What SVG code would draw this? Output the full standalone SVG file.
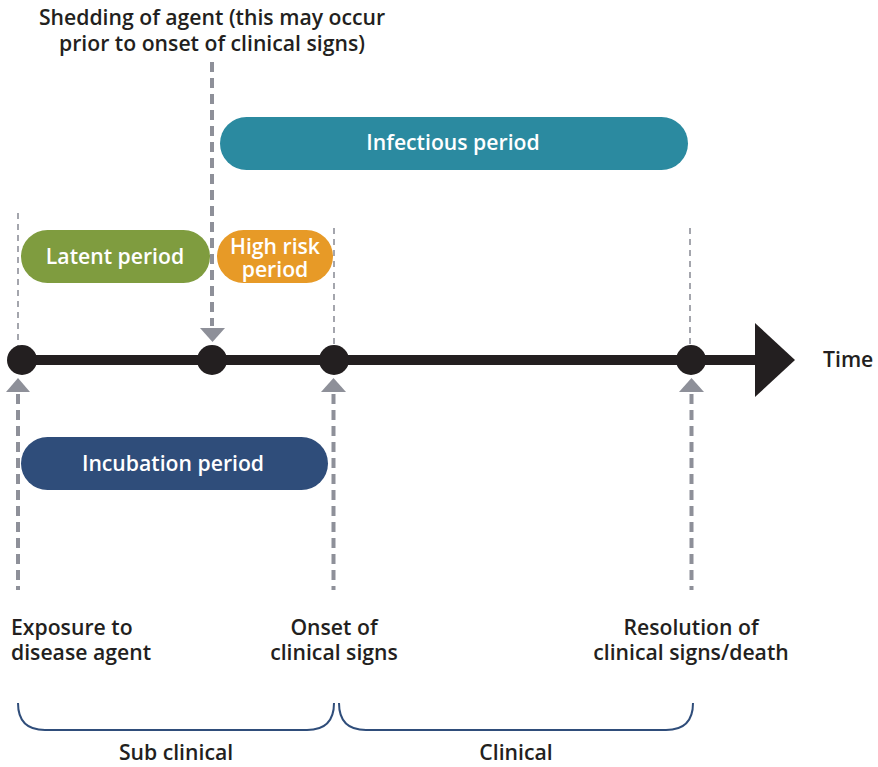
<svg xmlns="http://www.w3.org/2000/svg" width="878" height="767" viewBox="0 0 878 767">
<style>
text{font-family:"Open Sans","Noto Sans","Liberation Sans",sans-serif;font-weight:600;font-size:21.2px;fill:#231f20}
.w{fill:#ffffff}
.c{text-anchor:middle}
.thin{stroke:#8e9099;stroke-width:1.6;stroke-dasharray:6 5;fill:none}
.thick{stroke:#8e9099;stroke-width:4;stroke-dasharray:10 6;fill:none}
.head{fill:#8e9099}
.dot{fill:#231f20}
.brace{fill:none;stroke:#2f4d7a;stroke-width:2}
</style>
<rect width="878" height="767" fill="#ffffff"/>
<g id="connectors">
<line class="thin" x1="18" y1="213" x2="18" y2="346"/>
<line class="thin" x1="334" y1="228" x2="334" y2="346"/>
<line class="thin" x1="690" y1="228" x2="690" y2="346"/>
<line class="thick" x1="212" y1="62" x2="212" y2="326"/>
<polygon class="head" points="200,328 225,328 212.5,342"/>
<polygon class="head" points="6,392 30,392 18,378"/>
<line class="thick" x1="18" y1="394" x2="18" y2="590"/>
<polygon class="head" points="321,392 346,392 333.5,378"/>
<line class="thick" x1="333.5" y1="394" x2="333.5" y2="590"/>
<polygon class="head" points="679,392 704,392 691.5,378"/>
<line class="thick" x1="691.5" y1="394" x2="691.5" y2="590"/>
</g>
<g id="timeline">
<line x1="22" y1="360" x2="760" y2="360" stroke="#231f20" stroke-width="10"/>
<polygon points="755,323 795,360 755,397" fill="#231f20"/>
<circle class="dot" cx="22" cy="360" r="15"/>
<circle class="dot" cx="212" cy="360" r="15"/>
<circle class="dot" cx="334" cy="360" r="15"/>
<circle class="dot" cx="691" cy="360" r="15"/>
<text x="823" y="367">Time</text>
</g>
<g id="infectious">
<rect x="220" y="117" width="468" height="53" rx="26.5" fill="#2b8aa0"/>
<text class="w c" x="453" y="150">Infectious period</text>
</g>
<g id="latent">
<rect x="21" y="230" width="189" height="53" rx="26.5" fill="#7f9c3f"/>
<text class="w c" x="115" y="264">Latent period</text>
</g>
<g id="highrisk">
<rect x="217" y="230" width="116" height="53" rx="26.5" fill="#e79a27"/>
<text class="w c" x="275" y="254">High risk</text>
<text class="w c" x="275" y="277">period</text>
</g>
<g id="incubation">
<rect x="21" y="437" width="307" height="53" rx="26.5" fill="#2f4d7a"/>
<text class="w c" x="173" y="471">Incubation period</text>
</g>
<g id="shedding">
<text class="c" x="212" y="25">Shedding of agent (this may occur</text>
<text class="c" x="212" y="51">prior to onset of clinical signs)</text>
</g>
<g id="exposure">
<text x="11" y="635">Exposure to</text>
<text x="11" y="660">disease agent</text>
</g>
<g id="onset">
<text class="c" x="334" y="635">Onset of</text>
<text class="c" x="334" y="660">clinical signs</text>
</g>
<g id="resolution">
<text class="c" x="691" y="635">Resolution of</text>
<text class="c" x="691" y="660">clinical signs/death</text>
</g>
<g id="subclinical">
<path class="brace" d="M18,703 Q18,730 45,730 L307,730 Q334,730 334,703"/>
<text class="c" x="176" y="760">Sub clinical</text>
</g>
<g id="clinical">
<path class="brace" d="M339,703 Q339,730 366,730 L666,730 Q693,730 693,703"/>
<text class="c" x="516" y="760">Clinical</text>
</g>
</svg>
